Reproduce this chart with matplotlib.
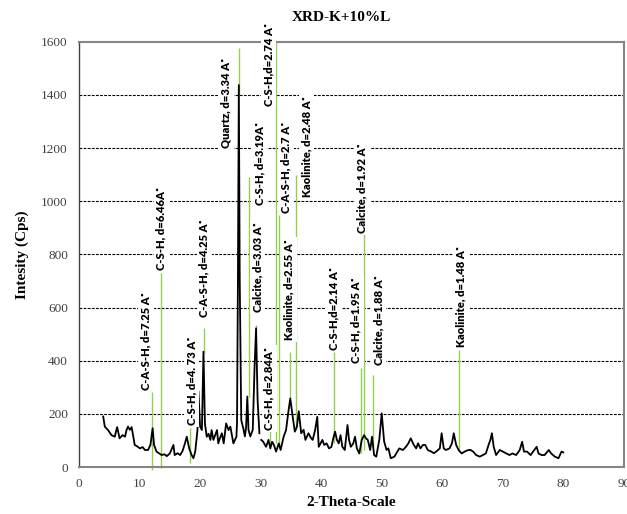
import numpy as np
import matplotlib
matplotlib.use("Agg")
import matplotlib.pyplot as plt

# ---- XRD pattern (2-theta, counts) ----
two_theta = [4.0, 4.26, 4.8, 5.36, 5.9, 6.3, 6.7, 7.2, 7.6, 7.85, 8.1, 8.4, 8.7, 8.96, 9.2,
             9.6, 10.06, 10.5, 10.9, 11.4, 11.8, 12.16, 12.4, 12.8, 13.2, 13.65, 14.1, 14.5,
             15.0, 15.6, 15.8, 16.3, 16.7, 17.1, 17.5, 17.8, 18.2, 18.6, 18.9, 19.2, 19.57,
             19.73, 20.0, 20.3, 20.56, 20.8, 21.1, 21.4, 21.7, 21.9, 22.2, 22.5, 22.8, 23.0,
             23.3, 23.6, 23.9, 24.3, 24.7, 25.0, 25.5, 26.0, 26.1, 26.25, 26.4, 26.55, 26.8,
             27.2, 27.4, 27.6, 27.8, 28.0, 28.3, 28.7, 29.0, 29.25, 29.5, 29.8, 29.95, 30.1,
             30.4, 30.9, 31.3, 31.6, 31.9, 32.2, 32.55, 33.0, 33.3, 33.8, 34.2, 34.55, 34.9,
             35.3, 35.65, 36.0, 36.3, 36.7, 37.1, 37.4, 37.9, 38.3, 38.6, 39.0, 39.35, 39.6,
             40.2, 40.5, 40.9, 41.3, 41.7, 42.0, 42.3, 42.6, 42.9, 43.2, 43.5, 43.9, 44.35,
             44.6, 44.9, 45.3, 45.6, 45.9, 46.3, 46.7, 47.1, 47.4, 47.7, 48.1, 48.4, 48.75,
             49.1, 49.6, 50.0, 50.4, 50.8, 51.1, 51.5, 52.1, 52.6, 52.9, 53.5, 54.0, 54.4,
             54.8, 55.3, 55.7, 56.0, 56.4, 56.8, 57.2, 57.6, 58.2, 58.6, 59.0, 59.6, 59.9,
             60.25, 60.6, 61.2, 61.6, 61.9, 62.3, 62.7, 63.2, 63.7, 64.3, 64.7, 65.1, 65.6,
             66.2, 66.7, 67.2, 67.65, 67.95, 68.2, 68.5, 68.9, 69.5, 70.0, 70.6, 71.1, 71.6,
             72.2, 72.8, 73.2, 73.5, 74.0, 74.6, 75.0, 75.6, 75.9, 76.4, 76.9, 77.6, 78.0,
             78.6, 79.2, 79.7, 80.0]
counts = [190, 152, 139, 120, 114, 150, 108, 120, 114, 139, 152, 140, 150, 114, 83,
          78, 70, 75, 64, 64, 83, 146, 83, 58, 52, 45, 48, 41,
          51, 83, 45, 52, 45, 60, 89, 114, 70, 45, 33, 58, 139,
          285, 152, 139, 434, 164, 114, 125, 102, 139, 102, 120, 139, 89,
          110, 127, 89, 164, 139, 152, 89, 114, 164, 700, 1437, 700, 177,
          139, 115, 150, 265, 139, 115, 140, 377, 522, 252, 127, np.nan, 102,
          96, 76, 102, 70, 95, 83, 58, 89, 64, 114, 139, 202, 258,
          189, 133, 152, 210, 127, 140, 102, 127, 110, 102, 139, 189, 76,
          102, 83, 89, 70, 76, 108, 133, 102, 89, 120, 76, 64, 158,
          102, 76, 89, 114, 70, 51, 102, 120, 108, 102, 64, 114, 45,
          39, 102, 202, 96, 64, 70, 33, 39, 58, 70, 64, 76, 89,
          108, 83, 70, 89, 70, 83, 83, 64, 58, 52, 58, 70, 127,
          70, 64, 70, 89, 127, 83, 64, 51, 58, 64, 64, 58, 45,
          39, 45, 51, 83, 102, 127, 76, 45, 64, 58, 51, 45, 51,
          45, 64, 95, 58, 58, 45, 58, 76, 51, 45, 45, 64, 51,
          39, 33, 58, 55]

# ---- peak annotations ----
labels = ["C-A-S-H, d=7.25 A˚", "C-S-H, d=6.46A˚", "C-S-H, d=4. 73 A˚",
          "C-A-S-H, d=4.25 A˚", "Quartz, d=3.34 A˚", "C-S-H, d=3.19A˚",
          "C-S-H,d=2.74 A˚", "C-A-S-H, d=2.7 A˚", "Kaolinite, d=2.48 A˚",
          "Kaolinite, d=2.55 A˚", "Calcite, d=3.03 A˚", "C-S-H, d=2.84A˚",
          "C-S-H,d=2.14 A˚", "C-S-H, d=1.95 A˚", "Calcite, d=1.92 A˚",
          "Calcite, d=1.88 A˚", "Kaolinite, d=1.48 A˚"]
peak_x = [12.1, 13.6, 18.4, 20.6, 26.5, 28.0, 32.5, 33.1, 35.9, 34.9, 29.25, 31.6,
          42.1, 46.6, 47.1, 48.5, 62.7]
stem_lo = [-10, -4, 15, 430, 1400, 263, 90, 70, 140, 260, 520, 80, 90, 53, 64, 75, 64]
stem_hi = [282, 730, 147, 523, 1577, 1092, 1600, 948, 1099, 432, 534, 140, 432, 372,
           880, 346, 440]
label_x = [11.1, 13.6, 18.6, 20.7, 24.3, 29.85, 31.3, 34.2, 37.6, 34.7, 29.5, 31.45,
           42.1, 45.8, 46.8, 49.5, 63.1]
label_y = [290, 741, 158, 565, 1201, 986, 1359, 956, 1016, 478, 583, 139, 440, 391,
           881, 384, 452]

x_ticks = list(range(0, 91, 10))
y_ticks = list(range(0, 1601, 200))

fig = plt.figure(figsize=(6.27, 5.14), dpi=100)
ax = fig.add_axes([0.126, 0.0914, 0.869, 0.8275])

for y in y_ticks[1:-1]:
    ax.axhline(y, color="black", lw=0.8, ls=(0, (2.5, 1.2)), zorder=1)

ax.vlines(peak_x, stem_lo, stem_hi, colors="#92d050", lw=1.0, zorder=2, clip_on=False)
ax.plot(two_theta, counts, color="black", lw=1.3, zorder=3)

for t, lx, ly in zip(labels, label_x, label_y):
    ax.text(lx, ly, t, rotation=90, ha="center", va="bottom", fontsize=8,
            family=["Lato", "DejaVu Sans"], fontweight="heavy", zorder=10,
            bbox=dict(boxstyle="square,pad=0.2", fc="white", ec="none"), clip_on=False)

ax.set_xlim(0, 90)
ax.set_ylim(0, 1600)
ax.set_xticks(x_ticks)
ax.set_yticks(y_ticks)
ax.tick_params(length=0, labelsize=9.5, labelcolor="#404040", pad=8)
for lab in ax.get_xticklabels() + ax.get_yticklabels():
    lab.set_family("Liberation Serif")

for side in ["top", "right", "bottom"]:
    ax.spines[side].set_color("#858585")
    ax.spines[side].set_linewidth(1.5)
ax.spines["left"].set_color("#404040")
ax.spines["left"].set_linewidth(1.0)
for s in ax.spines.values():
    s.set_zorder(5)

ax.set_xlabel("2-Theta-Scale", family="Liberation Serif", fontweight="bold", fontsize=11,
              labelpad=4)
ax.set_ylabel("Intesity (Cps)", family="Liberation Serif", fontweight="bold", fontsize=11,
              labelpad=9)
fig.text(0.545, 0.965, "XRD-K+10%L", family="Liberation Serif", fontweight="bold",
         fontsize=11, ha="center", va="center")

fig.savefig("out.png", dpi=100)
